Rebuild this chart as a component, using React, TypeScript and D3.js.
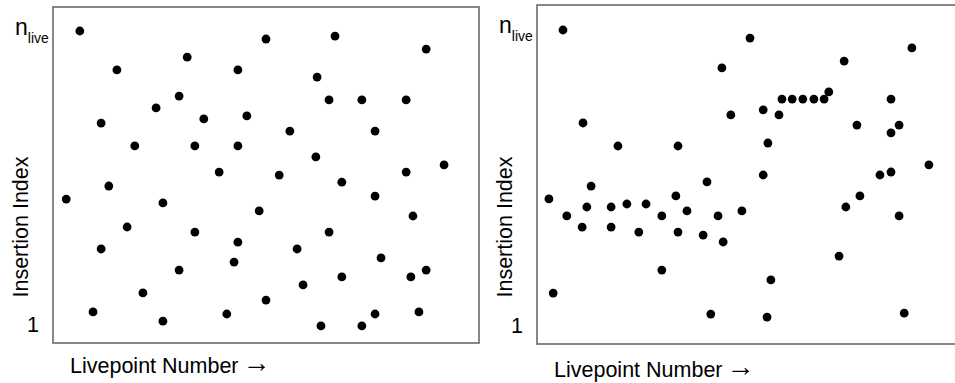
import React from 'react';
import * as d3 from 'd3';

// left panel: uniform insertion indices (livepoint number, insertion index 1..nlive)
const leftLivepoint = [6.3, 31.5, 15.0, 43.4, 29.6, 24.2, 35.4, 11.3, 19.2, 33.3, 43.4, 39.0, 50.0, 66.2, 87.6, 62.0, 64.8, 72.5, 82.9, 45.5, 55.6, 75.6, 61.7, 53.1, 82.9, 91.8, 67.8, 13.1, 3.1, 25.8, 17.4, 33.3, 43.4, 11.3, 29.6, 42.5, 21.1, 9.4, 25.8, 40.8, 75.6, 48.4, 84.5, 64.8, 57.3, 77.0, 67.8, 58.7, 84.0, 87.6, 50.0, 75.6, 85.9, 62.9, 72.5];
const leftInsertion = [100, 91.2, 86.9, 86.9, 78.1, 74.1, 70.4, 69.0, 61.3, 61.3, 61.3, 52.5, 97.3, 98.3, 93.9, 84.5, 76.8, 76.8, 76.8, 71.4, 66.3, 66.3, 57.6, 51.5, 52.5, 54.9, 49.1, 47.8, 43.4, 42.1, 34.0, 32.3, 28.9, 26.6, 19.5, 22.2, 11.8, 5.4, 2.3, 4.7, 44.4, 39.4, 37.7, 32.3, 26.6, 23.6, 17.2, 14.5, 17.2, 19.5, 9.4, 4.7, 5.4, 0.7, 0.7];

// right panel: clustered insertion indices
const rightLivepoint = [2.8, 3.8, 6.1, 7.0, 10.8, 11.7, 10.6, 12.7, 17.4, 17.4, 19.0, 21.1, 25.6, 23.9, 29.3, 29.3, 32.6, 33.1, 35.2, 33.1, 39.0, 39.9, 40.8, 42.5, 43.4, 43.7, 45.5, 48.1, 50.0, 53.1, 53.1, 54.2, 56.8, 54.9, 54.0, 57.5, 59.9, 62.4, 65.0, 67.4, 68.5, 72.1, 70.9, 72.5, 75.1, 75.8, 80.5, 83.1, 83.1, 83.1, 85.0, 85.0, 86.2, 88.0, 92.0];
const rightInsertion = [43.5, 12.0, 100, 37.8, 68.9, 40.8, 34.1, 47.8, 40.8, 34.1, 61.2, 41.8, 41.8, 32.4, 37.8, 19.7, 44.5, 61.2, 39.5, 32.4, 31.4, 49.2, 5.0, 37.8, 87.3, 29.1, 71.6, 39.5, 97.3, 73.3, 51.5, 62.2, 71.6, 16.4, 4.0, 76.9, 76.9, 76.9, 76.9, 76.9, 79.3, 89.6, 24.4, 40.8, 68.2, 44.5, 51.5, 76.9, 65.6, 52.5, 68.2, 37.8, 5.3, 94.0, 54.9];

const xLabel = 'Livepoint Number';
const yLabel = 'Insertion Index';

const FONT = '"Liberation Sans", Arial, Helvetica, sans-serif';

type PanelProps = {
  xs: number[];
  ys: number[];
  left: number;
  top: number;
  bottom: number;
  yTop: number;
  yBottom: number;
  xLabelY: number;
  nY: number;
};

const Panel = ({ xs, ys, left, top, bottom, yTop, yBottom, xLabelY, nY }: PanelProps) => {
  const width = 426;
  const x = d3.scaleLinear().domain([0, 100]).range([left, left + width]);
  const y = d3.scaleLinear().domain([1, 100]).range([yBottom, yTop]);
  const pts = xs.map((v, i) => [v, ys[i]]);

  return (
    <g>
      <rect x={left} y={top} width={width} height={bottom - top} fill="none" stroke="#6a6a6a" strokeWidth={1.6} />
      {pts.map((d, i) => (
        <circle key={i} cx={x(d[0])} cy={y(d[1])} r={4.4} fill="#000" />
      ))}
      <text x={left - 14} y={y(1) + 7} textAnchor="end" fontSize={21.5} fontFamily={FONT} fill="#000">1</text>
      <text x={left - 38} y={nY} fontFamily={FONT} fill="#000">
        <tspan fontSize={23}>n</tspan>
        <tspan fontSize={14} dy={8}>live</tspan>
      </text>
      <text
        transform={`translate(${left - 25},${(yTop + yBottom) / 2 + 49}) rotate(-90)`}
        textAnchor="middle"
        fontSize={21.5}
        fontFamily={FONT}
        fill="#000"
      >{yLabel}</text>
      <text x={left + 17} y={xLabelY} fontSize={21.5} fontFamily={FONT} fill="#000">
        {xLabel}
        <tspan dx={4} dy={-1} fontSize={28}>{'\u2192'}</tspan>
      </text>
    </g>
  );
};

export default function App() {
  return (
    <svg width={955} height={383} style={{ position: 'absolute', left: 0, top: 0, background: '#fff' }}>
      <Panel xs={leftLivepoint} ys={leftInsertion} left={53} top={7} bottom={343}
        yTop={31} yBottom={325} xLabelY={373} nY={35} />
      <Panel xs={rightLivepoint} ys={rightInsertion} left={537} top={5} bottom={344}
        yTop={30} yBottom={326} xLabelY={377} nY={33} />
    </svg>
  );
}
